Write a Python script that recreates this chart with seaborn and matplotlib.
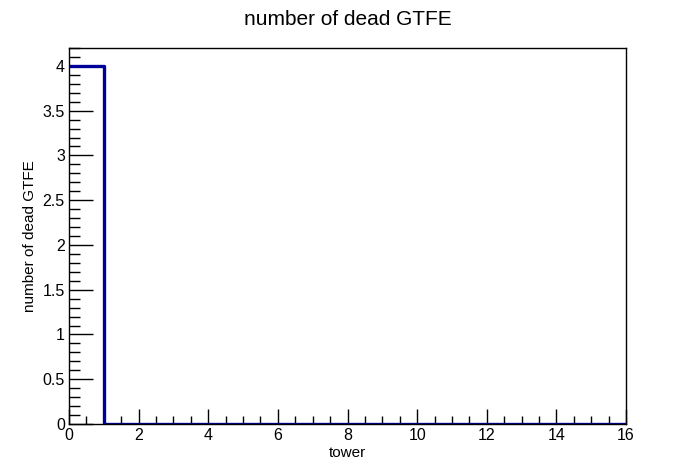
import matplotlib
matplotlib.use('Agg')
import matplotlib.pyplot as plt
import seaborn as sns
import numpy as np
from matplotlib.ticker import MultipleLocator

# dead GTFE per tower
towers = np.arange(16)
dead_gtfe = [4, 0, 0, 0, 0, 0, 0, 0, 0, 0, 0, 0, 0, 0, 0, 0]

sns.set_style('white')
plt.rcParams['font.family'] = ['Liberation Sans', 'DejaVu Sans']
plt.rcParams['text.color'] = 'black'
plt.rcParams['axes.labelcolor'] = 'black'
plt.rcParams['xtick.color'] = 'black'
plt.rcParams['ytick.color'] = 'black'

fig = plt.figure(figsize=(6.96, 4.72), dpi=100, facecolor='white')
ax = fig.add_axes([69 / 696, 48 / 472, 557 / 696, 376 / 472])

sns.histplot(x=towers + 0.5, weights=dead_gtfe, bins=16, binrange=(0, 16),
             element='step', fill=False, color='#000099', linewidth=2.4, ax=ax)

ax.set_xlim(0, 16)
ax.set_ylim(0, 4.2)
ax.xaxis.set_major_locator(MultipleLocator(2))
ax.xaxis.set_minor_locator(MultipleLocator(0.5))
ax.yaxis.set_major_locator(MultipleLocator(0.5))
ax.yaxis.set_minor_locator(MultipleLocator(0.1))
ax.set_yticks(np.arange(0, 4.01, 0.5))
ax.set_yticklabels(['0', '0.5', '1', '1.5', '2', '2.5', '3', '3.5', '4'])

ax.tick_params(axis='both', which='both', direction='in', labelsize=11.5,
               bottom=True, left=True, top=False, right=False,
               width=1, color='black', labelcolor='black')
ax.tick_params(axis='y', which='major', length=17, pad=3)
ax.tick_params(axis='y', which='minor', length=8)
ax.tick_params(axis='x', which='major', length=11, pad=3)
ax.tick_params(axis='x', which='minor', length=6)

for s in ax.spines.values():
    s.set_visible(True)
    s.set_color('black')
    s.set_linewidth(1)

ax.set_xlabel('tower', fontsize=11, labelpad=2)
ax.set_ylabel('number of dead GTFE', fontsize=11, labelpad=4)
fig.text(0.5, 0.958, 'number of dead GTFE', ha='center', va='center', fontsize=15)

fig.savefig('out.png', dpi=100, facecolor='white')
